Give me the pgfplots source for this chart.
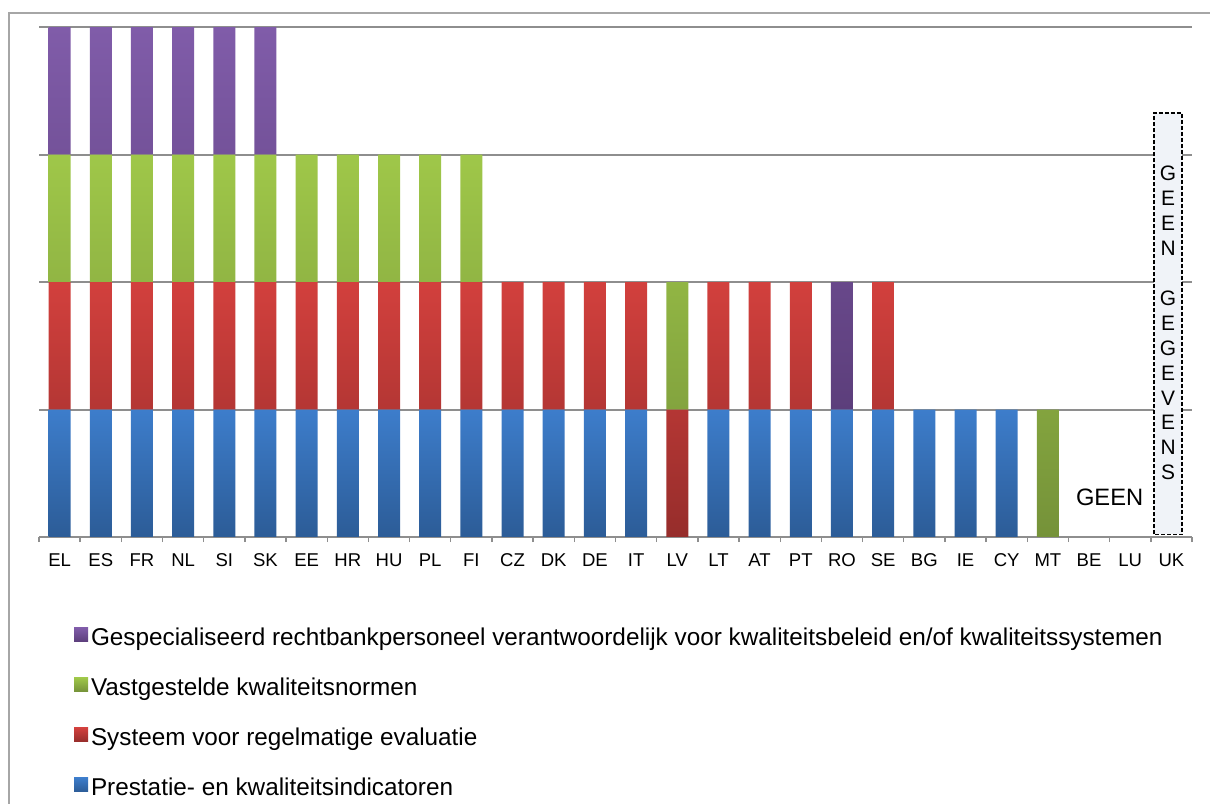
\documentclass[border=0pt]{standalone}
\usepackage{pgfplots}
\usepackage{pgfplotstable}
\pgfplotsset{compat=1.18}
\usepackage{fontspec}
\setmainfont{Liberation Sans}
\definecolor{bluetop}{HTML}{3D7DCB}
\definecolor{bluebot}{HTML}{2C5C97}
\definecolor{redtop}{HTML}{D2403D}
\definecolor{redbot}{HTML}{962D2B}
\definecolor{greentop}{HTML}{9FC749}
\definecolor{greenbot}{HTML}{759239}
\definecolor{purptop}{HTML}{805CA9}
\definecolor{purpbot}{HTML}{5C3E7B}
\definecolor{gridgray}{HTML}{8E8E8E}
\definecolor{framegray}{HTML}{A6A6A6}
\definecolor{boxfill}{HTML}{F0F3F8}

% x: category index; 1 = criterion present
\pgfplotstableread{
x  blue red green purple
0  1 1 1 1
1  1 1 1 1
2  1 1 1 1
3  1 1 1 1
4  1 1 1 1
5  1 1 1 1
6  1 1 1 0
7  1 1 1 0
8  1 1 1 0
9  1 1 1 0
10 1 1 1 0
11 1 1 0 0
12 1 1 0 0
13 1 1 0 0
14 1 1 0 0
15 0 1 1 0
16 1 1 0 0
17 1 1 0 0
18 1 1 0 0
19 1 0 0 1
20 1 1 0 0
21 1 0 0 0
22 1 0 0 0
23 1 0 0 0
24 0 0 1 0
25 0 0 0 0
26 0 0 0 0
27 0 0 0 0
}\datatable

\begin{document}
\begin{tikzpicture}
\useasboundingbox (0,0) rectangle (605bp,402bp);
\draw[framegray, line width=1bp] (4.7bp,-2bp) -- (4.7bp,395.5bp) -- (607bp,395.5bp);
\begin{axis}[
  at={(19.5bp,133.5bp)}, anchor=south west,
  scale only axis, width=576.5bp, height=255bp,
  ybar stacked, bar width=11bp,
  xmin=-0.5, xmax=27.5, ymin=0, ymax=4,
  xtick={0,...,27},
  xticklabels={EL,ES,FR,NL,SI,SK,EE,HR,HU,PL,FI,CZ,DK,DE,IT,LV,LT,AT,PT,RO,SE,BG,IE,CY,MT,BE,LU,UK},
  minor xtick={-0.5,0.5,...,27.5},
  major tick length=0pt, minor tick length=2.5bp,
  tick align=outside,
  minor tick style={gridgray, line width=0.7bp},
  ytick={1,2,3,4}, yticklabels={},
  ymajorgrids,
  major grid style={gridgray, line width=1bp},
  axis x line*=bottom, axis y line*=left,
  x axis line style={gridgray, line width=1bp},
  y axis line style={draw=none},
  xticklabel style={font=\fontsize{9.3}{11}\selectfont, anchor=base, yshift=-14.5bp, inner sep=0pt},
  reverse legend,
  legend cell align=left,
  legend style={at={(0.03036,-0.1778)}, anchor=north west, draw=none, fill=none,
    inner sep=0pt, outer sep=0pt,
    font=\fontsize{12.2}{14}\selectfont,
    nodes={inner sep=0pt, text height=8.5bp, text depth=2.5bp},
    row sep=13.5bp,
    /tikz/every odd column/.append style={column sep=1.5bp}},
  legend image code/.code={\fill[#1] (0bp,-1bp) rectangle (7bp,6bp);},
]
\addplot[draw=none, top color=bluetop, bottom color=bluebot] table[x=x,y=blue]{\datatable};
\addlegendentry{Prestatie- en kwaliteitsindicatoren}
\addplot[draw=none, top color=redtop, bottom color=redbot] table[x=x,y=red]{\datatable};
\addlegendentry{Systeem voor regelmatige evaluatie}
\addplot[draw=none, top color=greentop, bottom color=greenbot] table[x=x,y=green]{\datatable};
\addlegendentry{Vastgestelde kwaliteitsnormen}
\addplot[draw=none, top color=purptop, bottom color=purpbot] table[x=x,y=purple]{\datatable};
\addlegendentry{Gespecialiseerd rechtbankpersoneel verantwoordelijk voor kwaliteitsbeleid en/of kwaliteitssystemen}
\node[font=\fontsize{11.9}{14}\selectfont, inner sep=0pt] at (axis cs:25.5,0.31) {GEEN};
\draw[black, line width=0.75bp, dash pattern=on 2bp off 1bp, fill=boxfill] (axis cs:26.58,0.02) rectangle (axis cs:27.26,3.325);
\coordinate (ukc) at (axis cs:26.92,1.678);
\end{axis}
\node[font=\fontsize{10.5}{12.5}\selectfont, align=center, inner sep=0pt] at (ukc)
  {G\\E\\E\\N\\[12.5bp]G\\E\\G\\E\\V\\E\\N\\S};
\end{tikzpicture}
\end{document}
